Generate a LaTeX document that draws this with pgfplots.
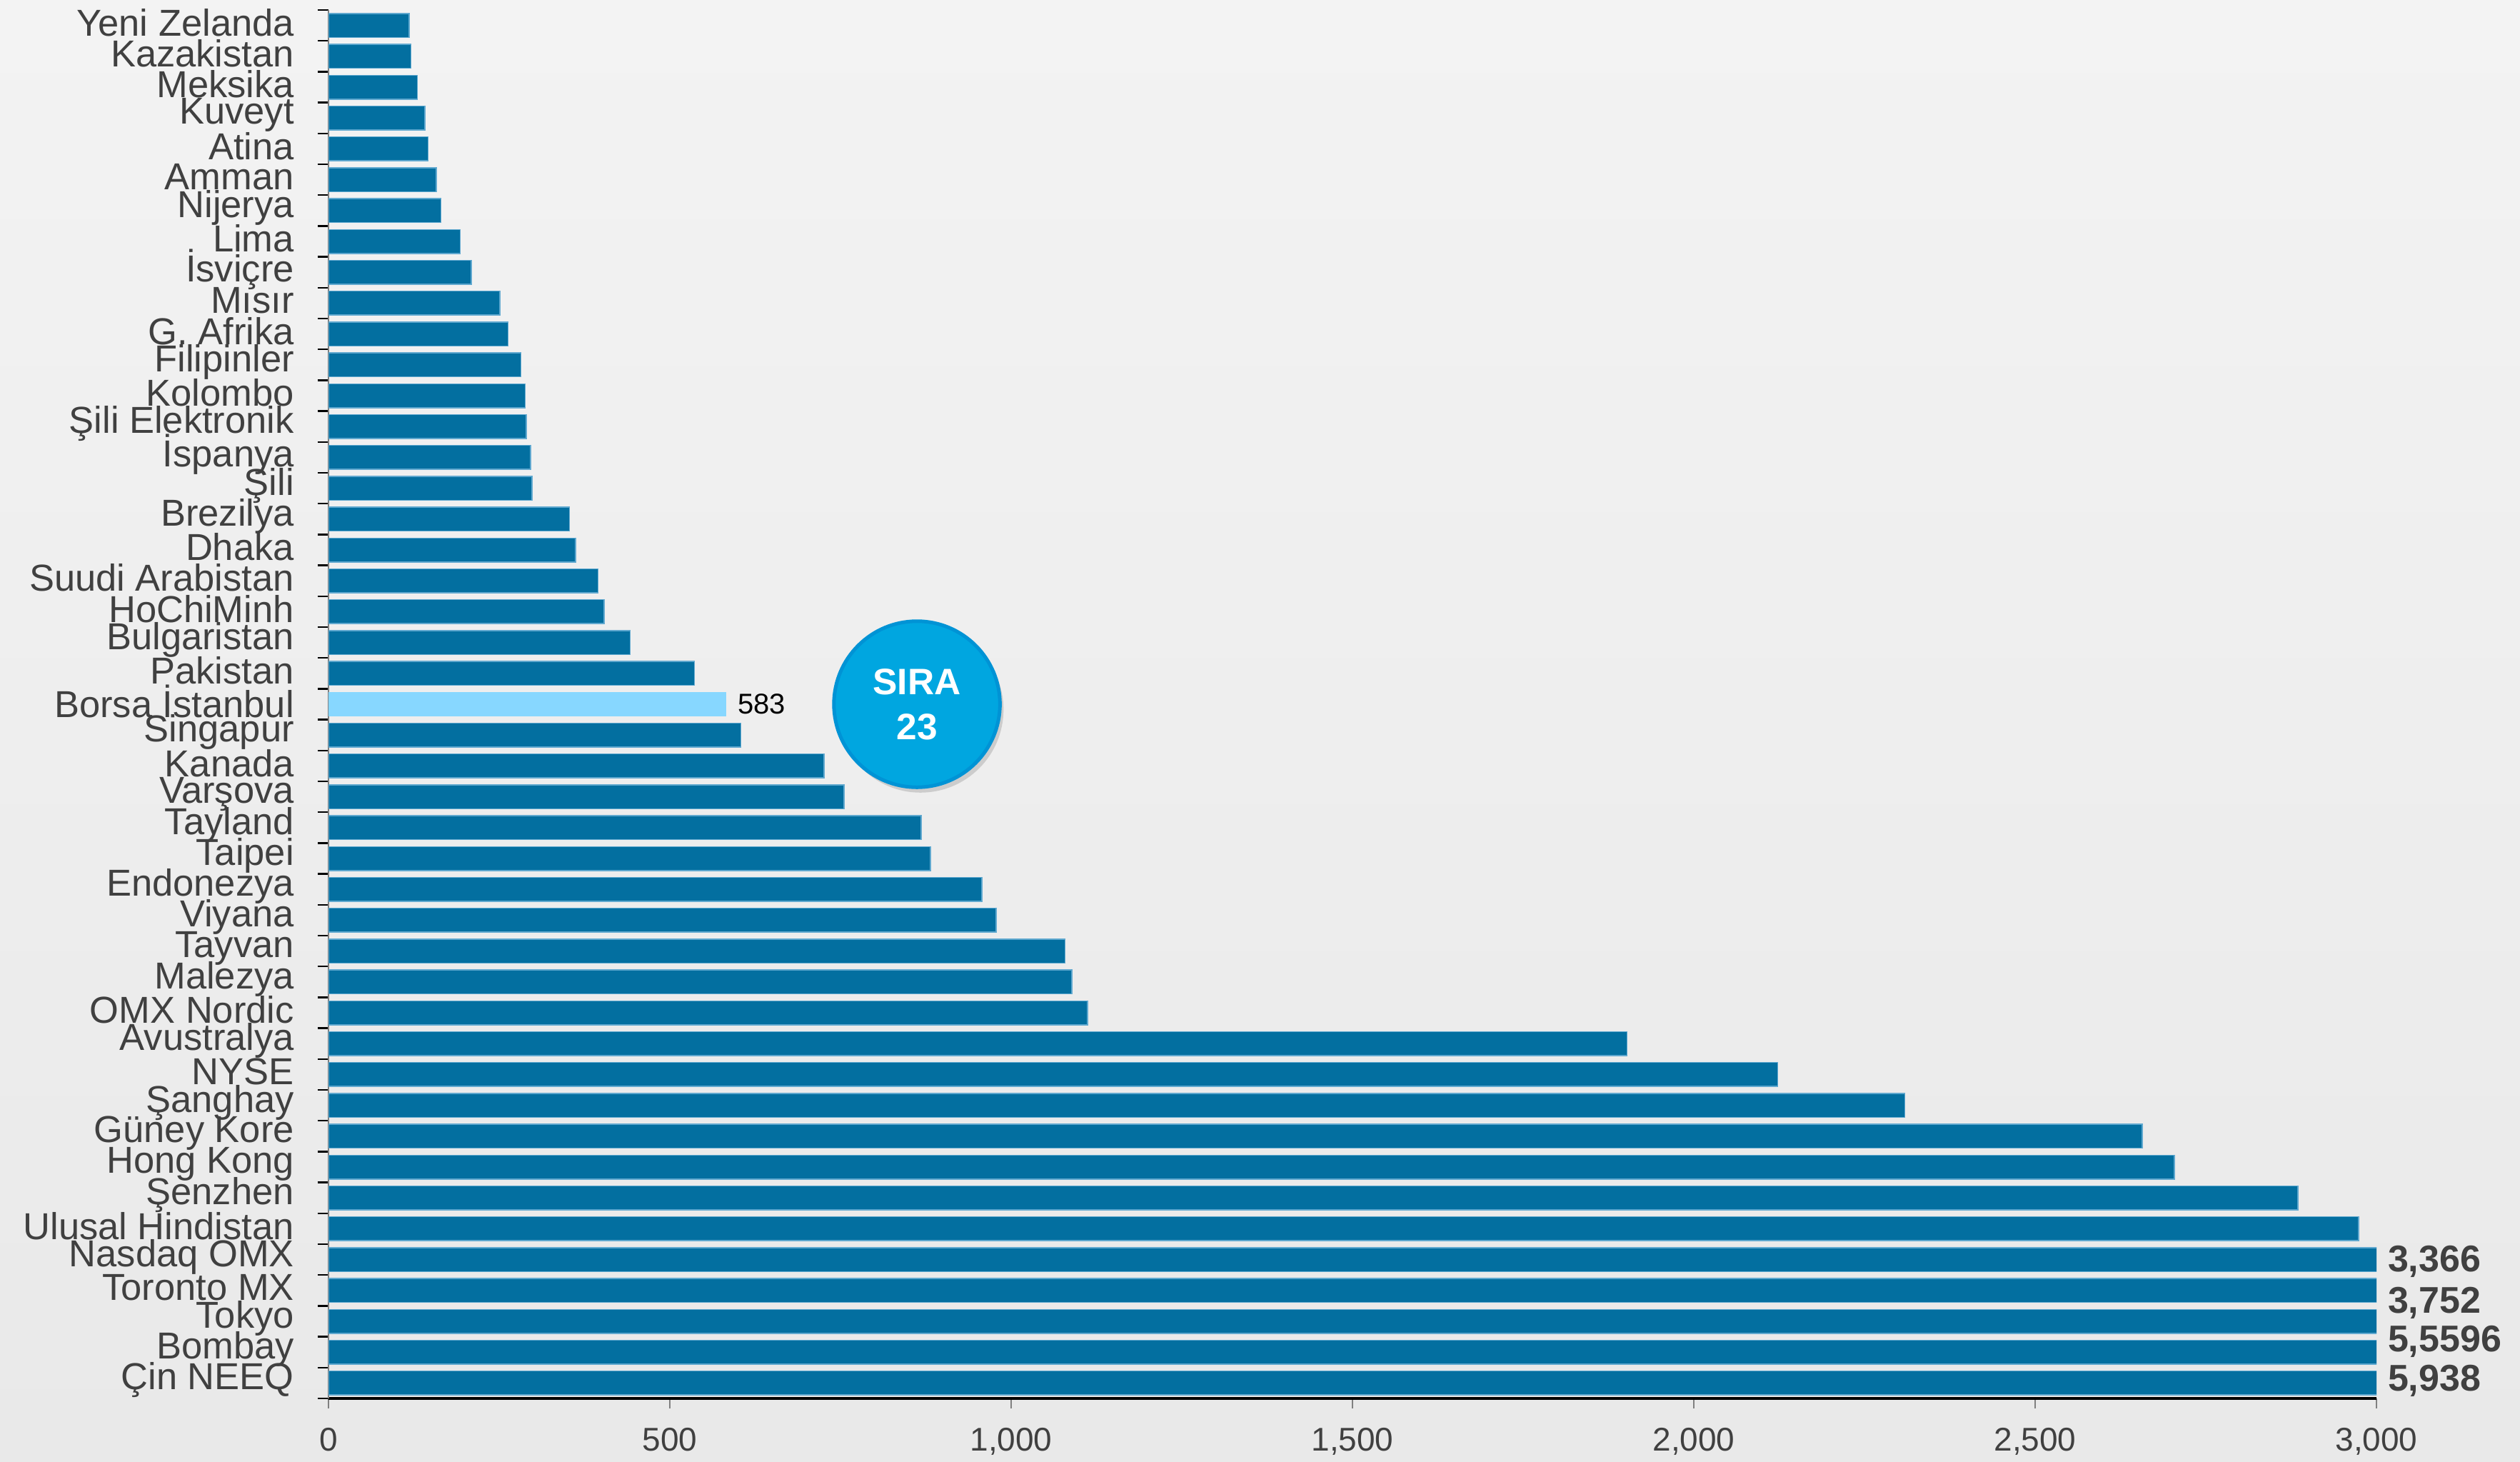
\documentclass[border=0pt]{standalone}
\usepackage{fontspec}
\setmainfont{Liberation Sans}
\usepackage{pgfplots}
\usepackage{pgfplotstable}
\pgfplotsset{compat=1.18}
\usetikzlibrary{shadows}

\definecolor{barblue}{HTML}{036FA0}
\definecolor{barlight}{HTML}{87D7FF}
\definecolor{baredge}{HTML}{5FA8CF}
\definecolor{txtgray}{HTML}{404040}
\definecolor{circfill}{HTML}{00A6E0}
\definecolor{circedge}{HTML}{0093D5}

% row index from the top, value
\pgfplotstableread{
idx val
0 118
1 121
2 130
3 141
4 146
5 158
6 165
7 193
8 209
9 251
10 263
11 282
12 288
13 290
14 296
15 298
16 353
17 362
18 395
19 404
20 442
21 536
23 604
24 726
25 755
26 868
27 882
28 957
29 978
30 1079
31 1089
32 1112
33 1902
34 2123
35 2309
36 2657
37 2704
38 2885
39 2974
40 3366
41 3752
42 4500
43 5596
44 5938
}\markets

\begin{document}
\begin{tikzpicture}
\shade[top color={rgb,255:red,243;green,243;blue,243}, bottom color={rgb,255:red,233;green,233;blue,233}]
  (0,0) rectangle (705.8pt,409.2pt);
\begin{axis}[
    at={(92pt,17.6pt)}, anchor=south west,
    scale only axis,
    width=573.6pt, height=388.8pt,
    clip mode=individual,
    xmin=0, xmax=3000,
    ymin=-0.5, ymax=44.5,
    y dir=reverse,
    axis x line*=bottom,
    axis y line*=left,
    x axis line style={black, line width=0.8pt},
    y axis line style={gray, line width=0.5pt},
    tick align=outside,
    major tick length=2.8pt,
    minor tick length=3pt,
    xtick={0,500,...,3000},
    major x tick style={gray, line width=0.5pt},
    ytick={0,...,44},
    major y tick style={draw=none},
    minor ytick={-0.5,0.5,...,44.5},
    minor y tick style={black, line width=0.5pt},
    yticklabels={Yeni Zelanda, Kazakistan, Meksika, Kuveyt, Atina, {Amman\ }, Nijerya, Lima, İsviçre, Mısır, G. Afrika, Filipinler, Kolombo, Şili Elektronik, İspanya, Şili, Brezilya, Dhaka, Suudi Arabistan, HoChiMinh, Bulgaristan, Pakistan, Borsa İstanbul, Singapur, Kanada, Varşova, Tayland, Taipei, Endonezya, Viyana, Tayvan, Malezya, OMX Nordic, Avustralya, NYSE, Şanghay, Güney Kore, Hong Kong, Şenzhen, Ulusal Hindistan, Nasdaq OMX, Toronto MX, Tokyo, Bombay, Çin NEEQ},
    yticklabel style={font=\fontsize{10.5}{11}\selectfont, text=txtgray, xshift=-3.3pt, yshift=0.8pt},
    xticklabel style={font=\fontsize{9.2}{10}\selectfont, text=txtgray, yshift=-2pt},
    /pgf/number format/1000 sep={,},
    /pgf/number format/assume math mode=true,
]
\addplot[xbar, bar shift=0pt, bar width=6.7pt, fill=barblue, draw=baredge, line width=0.3pt]
  table[x=val, y=idx] {\markets};
\addplot[xbar, bar shift=0pt, bar width=6.7pt, fill=barlight, draw=none]
  coordinates {(583,22)};

\node[anchor=west, xshift=3pt, inner sep=0pt, font=\fontsize{8}{9}\selectfont, text=black]
  at (axis cs:583,22) {583};
\begin{scope}[every node/.style={anchor=west, xshift=3pt, inner sep=0pt, text=txtgray, font=\bfseries\fontsize{10.4}{11}\selectfont}]
\node at (axis cs:3000,40.07) {3,366};
\node at (axis cs:3000,41.41) {3,752};
\node at (axis cs:3000,42.66) {5,5596};
\node at (axis cs:3000,43.93) {5,938};
\end{scope}
\node[circle, minimum size=46.5pt, inner sep=0pt, fill=circfill, draw=circedge, line width=1pt,
  drop shadow={opacity=0.3, shadow xshift=1pt, shadow yshift=-1.5pt},
  text=white, align=center, font=\bfseries\fontsize{10.3}{12.6}\selectfont]
  at (axis cs:862,22) {SIRA\\23};
\end{axis}
\pgfresetboundingbox
\path (0,0) rectangle (705.8pt,409.2pt);
\end{tikzpicture}
\end{document}
